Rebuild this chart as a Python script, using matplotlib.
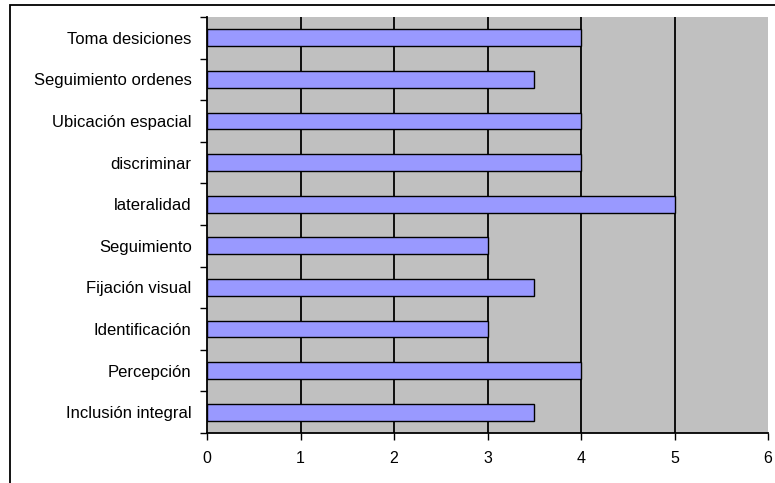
import matplotlib
matplotlib.use("Agg")
import matplotlib.pyplot as plt
from matplotlib.patches import Rectangle
import numpy as np

categories = [
    "Toma desiciones",
    "Seguimiento ordenes",
    "Ubicación espacial",
    "discriminar",
    "lateralidad",
    "Seguimiento",
    "Fijación visual",
    "Identificación",
    "Percepción",
    "Inclusión integral",
]
values = [4, 3.5, 4, 4, 5, 3, 3.5, 3, 4, 3.5]
x_ticks = [0, 1, 2, 3, 4, 5, 6]

plt.rcParams["font.family"] = ["Liberation Sans", "DejaVu Sans"]

fig = plt.figure(figsize=(7.75, 4.83), dpi=100)
fig.patch.set_facecolor("white")

# outer chart frame (left and top edges visible)
fig.patches.append(Rectangle((10 / 775, -0.1), 1.2, 1 - 5 / 483 + 0.1,
                             transform=fig.transFigure, fill=False,
                             edgecolor="black", linewidth=1.3))

ax = fig.add_axes([207 / 775, 1 - 433 / 483, (768 - 207) / 775, (433 - 17) / 483])
ax.set_facecolor("#C0C0C0")

y = np.arange(len(categories))
ax.barh(y, values, height=0.4, color="#9999FF", edgecolor="black",
        linewidth=1.0, zorder=3)

ax.set_xlim(0, 6)
ax.set_ylim(len(categories) - 0.5, -0.5)

for xv in x_ticks[1:-1]:
    ax.axvline(xv, color="black", linewidth=1.3, zorder=2)

ax.set_xticks(x_ticks)
ax.set_xticklabels([str(v) for v in x_ticks], fontsize=11.5)
ax.tick_params(axis="x", direction="out", length=5, width=1, pad=8, colors="black")

ax.set_yticks(y)
ax.set_yticklabels(categories, fontsize=12)
ax.set_yticks(np.arange(len(categories) + 1) - 0.5, minor=True)
ax.tick_params(axis="y", which="major", length=0, pad=11)
ax.tick_params(axis="y", which="minor", direction="out", length=5, width=1)

for side in ("top", "right"):
    ax.spines[side].set_visible(False)
for side in ("left", "bottom"):
    ax.spines[side].set_color("black")
    ax.spines[side].set_linewidth(1.3)

fig.savefig("out.png", dpi=100)
